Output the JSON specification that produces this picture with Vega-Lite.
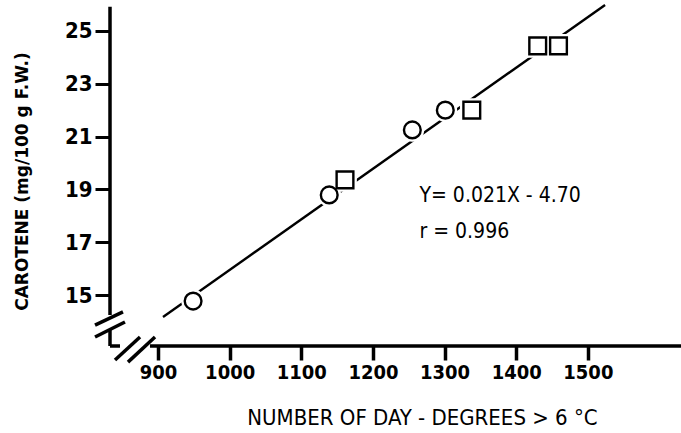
{
  "$schema": "https://vega.github.io/schema/vega-lite/v6.json",
  "width": 571,
  "height": 341,
  "autosize": {"type": "none"},
  "padding": {"left": 110, "top": 5, "right": 0, "bottom": 87},
  "background": "white",
  "config": {"view": {"stroke": null}},
  "datasets": {
    "points": [
      {"x": 949, "y": 14.77, "type": "circle"},
      {"x": 1139, "y": 18.79, "type": "circle"},
      {"x": 1255, "y": 21.25, "type": "circle"},
      {"x": 1301, "y": 22.0, "type": "circle"},
      {"x": 1161, "y": 19.36, "type": "square"},
      {"x": 1338, "y": 22.0, "type": "square"},
      {"x": 1430, "y": 24.43, "type": "square"},
      {"x": 1459, "y": 24.43, "type": "square"}
    ],
    "fit": [
      {"x": 907, "y": 14.17},
      {"x": 1524, "y": 25.98}
    ],
    "axes": [
      {"x": 833, "x2": 833, "y": 25.91, "y2": 14.24},
      {"x": 833, "x2": 833, "y": 13.67, "y2": 13.07},
      {"x": 833, "x2": 847, "y": 13.07, "y2": 13.07},
      {"x": 888.8, "x2": 1630, "y": 13.07, "y2": 13.07},
      {"x": 812.1, "x2": 851.1, "y": 13.86, "y2": 14.36},
      {"x": 812.1, "x2": 853.9, "y": 13.41, "y2": 13.98},
      {"x": 840, "x2": 874.9, "y": 12.54, "y2": 13.41},
      {"x": 858.1, "x2": 895.8, "y": 12.46, "y2": 13.41}
    ],
    "notes": [
      {"x": 1265, "y": 18.75, "label": "Y= 0.021X - 4.70"},
      {"x": 1265, "y": 17.39, "label": "r = 0.996"}
    ]
  },
  "encoding": {
    "x": {"field": "x", "type": "quantitative", "scale": {"domain": [833, 1630], "nice": false, "zero": false},
      "axis": {
        "values": [900, 1000, 1100, 1200, 1300, 1400, 1500],
        "format": "d",
        "domain": false, "grid": false,
        "tickSize": 14, "tickWidth": 3.5, "tickColor": "black",
        "labelFont": "DejaVu Sans Condensed", "labelFontSize": 20, "labelFontWeight": "bold", "labelColor": "black", "labelPadding": 2,
        "title": "NUMBER OF DAY - DEGREES > 6 °C",
        "titleFont": "DejaVu Sans Condensed", "titleFontSize": 22, "titleFontWeight": "normal", "titleColor": "black",
        "titleX": 312, "titleY": 71, "titleAlign": "center", "titleBaseline": "middle"
      }},
    "y": {"field": "y", "type": "quantitative", "scale": {"domain": [13.07, 25.98], "nice": false, "zero": false},
      "axis": {
        "values": [15, 17, 19, 21, 23, 25],
        "format": "d",
        "domain": false, "grid": false,
        "tickSize": 15, "tickWidth": 3, "tickColor": "black",
        "labelFont": "DejaVu Sans Condensed", "labelFontSize": 22, "labelFontWeight": "bold", "labelColor": "black", "labelPadding": 3,
        "title": "CAROTENE (mg/100 g F.W.)",
        "titleFont": "DejaVu Sans", "titleFontSize": 17, "titleFontWeight": "bold", "titleColor": "black",
        "titleX": -88, "titleY": 176, "titleAngle": -90, "titleAlign": "center", "titleBaseline": "middle"
      }}
  },
  "layer": [
    {
      "data": {"name": "axes"},
      "mark": {"type": "rule", "color": "black", "strokeWidth": 3.5, "strokeCap": "butt"},
      "encoding": {
        "x2": {"field": "x2"},
        "y2": {"field": "y2"}
      }
    },
    {
      "data": {"name": "fit"},
      "mark": {"type": "line", "color": "black", "strokeWidth": 2.4},
      "encoding": {}
    },
    {
      "data": {"name": "points"},
      "mark": {"type": "point", "filled": true, "fill": "white", "stroke": "white", "strokeWidth": 7, "size": 280, "opacity": 1},
      "encoding": {
        "shape": {"field": "type", "type": "nominal", "scale": {"domain": ["circle", "square"], "range": ["circle", "square"]}, "legend": null}
      }
    },
    {
      "data": {"name": "points"},
      "mark": {"type": "point", "filled": false, "fill": "white", "fillOpacity": 1, "stroke": "black", "strokeWidth": 2.4, "size": 280, "opacity": 1},
      "encoding": {
        "shape": {"field": "type", "type": "nominal", "scale": {"domain": ["circle", "square"], "range": ["circle", "square"]}, "legend": null}
      }
    },
    {
      "data": {"name": "notes"},
      "mark": {"type": "text", "align": "left", "baseline": "middle", "font": "DejaVu Sans Condensed", "fontSize": 21, "color": "black"},
      "encoding": {
        "text": {"field": "label"}
      }
    }
  ]
}
